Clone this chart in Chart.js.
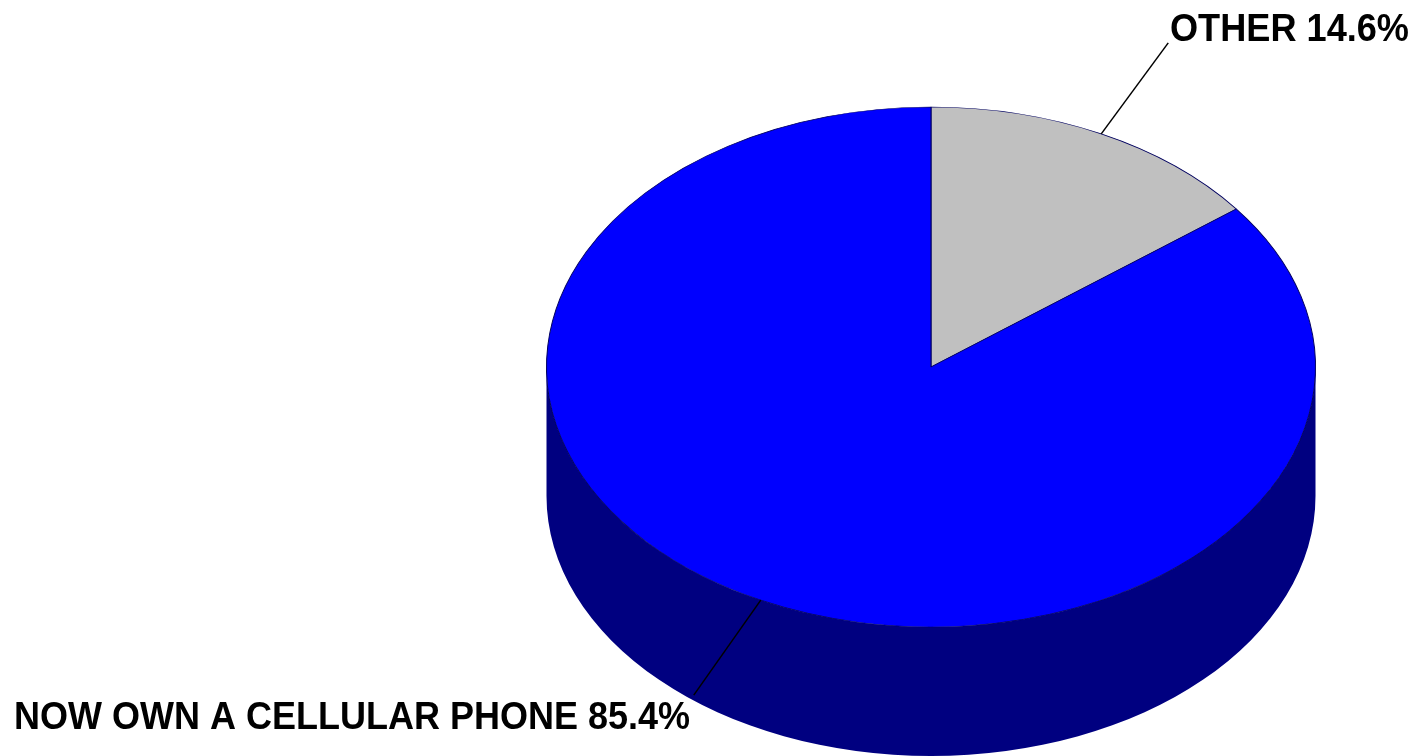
<!DOCTYPE html>
<html>
<head>
<meta charset="utf-8">
<style>
html,body{margin:0;padding:0;background:#fff;overflow:hidden}
canvas{display:block}
</style>
<script src="https://cdn.jsdelivr.net/npm/chart.js@4"></script>
</head>
<body>
<canvas id="c" width="1416" height="756"></canvas>
<script>
const categories = ["OTHER", "NOW OWN A CELLULAR PHONE"];
const values = [14.6, 85.4];
const sliceColors = ["#c0c0c0", "#0000ff"];
const sideColor = "#000080";

const view = {cx: 931, cy: 367, rx: 384.5, ry: 260, depth: 129};
const labelStyle = [
  {leader: [67, -91], x: 1170, y: 40.5, w: 239},
  {leader: [-67, 95], x: 14, y: 729, w: 676}
];

const pie3d = {
  id: "pie3d",
  beforeDatasetsDraw(chart) {
    const ctx = chart.ctx, el = chart.getDatasetMeta(0).data[0];
    ctx.save();
    // side wall
    ctx.fillStyle = sideColor;
    ctx.beginPath();
    ctx.ellipse(view.cx, view.cy, view.rx, view.ry, 0, 0, Math.PI);
    ctx.ellipse(view.cx, view.cy + view.depth, view.rx, view.ry, 0, Math.PI, 0, true);
    ctx.closePath();
    ctx.fill();
    // tilt the library's own arcs into the top face
    ctx.translate(view.cx, view.cy);
    ctx.scale(view.rx / el.outerRadius, view.ry / el.outerRadius);
    ctx.translate(-el.x, -el.y);
  },
  afterDatasetsDraw(chart) {
    const ctx = chart.ctx, meta = chart.getDatasetMeta(0);
    ctx.restore();
    ctx.save();
    meta.data.forEach((el, i) => {
      const mid = (el.startAngle + el.endAngle) / 2;
      const px = view.cx + view.rx * Math.cos(mid);
      const py = view.cy + view.ry * Math.sin(mid);
      const s = labelStyle[i];
      ctx.strokeStyle = "#000";
      ctx.lineWidth = 1.5;
      ctx.beginPath();
      ctx.moveTo(px, py);
      ctx.lineTo(px + s.leader[0], py + s.leader[1]);
      ctx.stroke();
      ctx.fillStyle = "#000";
      ctx.font = "bold 38px 'Liberation Sans'";
      ctx.textAlign = "left";
      ctx.textBaseline = "alphabetic";
      ctx.fillText(categories[i] + " " + values[i].toFixed(1) + "%", s.x, s.y, s.w);
    });
    ctx.restore();
  }
};

new Chart(document.getElementById("c"), {
  type: "pie",
  data: {
    labels: categories,
    datasets: [{
      data: values,
      backgroundColor: sliceColors,
      borderColor: "#000060",
      borderWidth: 1,
      clip: false
    }]
  },
  options: {
    responsive: false,
    animation: false,
    devicePixelRatio: 1,
    layout: {padding: 0},
    plugins: {legend: {display: false}, tooltip: {enabled: false}, title: {display: false}}
  },
  plugins: [pie3d]
});
</script>
</body>
</html>
